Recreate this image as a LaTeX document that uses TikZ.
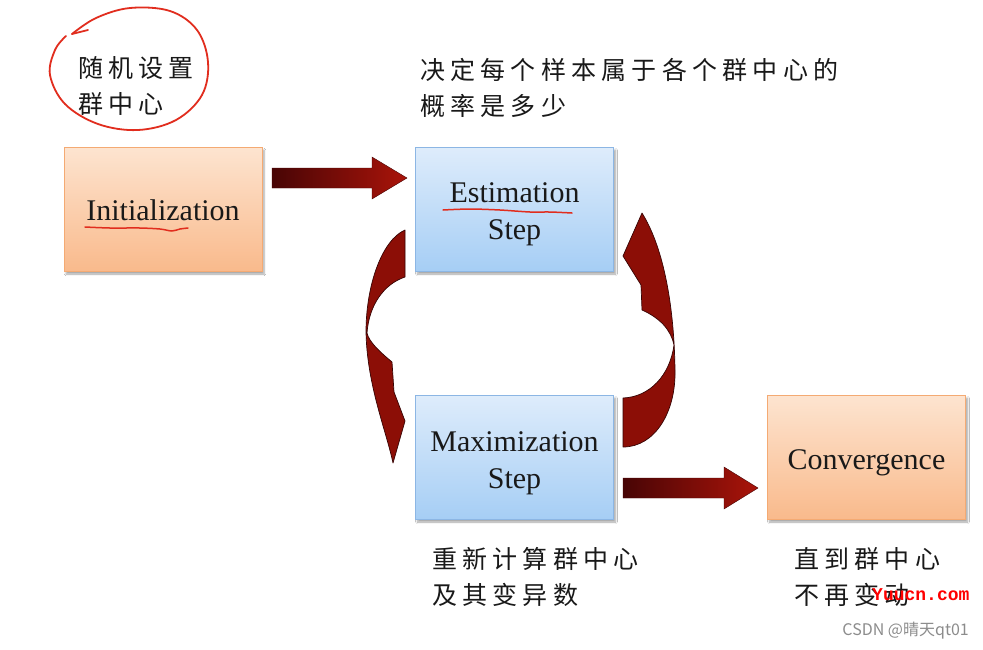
\documentclass[tikz,border=0pt]{standalone}
\usepackage{fontspec}
\setmainfont{Liberation Serif}
\newfontfamily\cjk[LetterSpace=21]{Noto Sans CJK SC}
\newfontfamily\cjkplain{Noto Sans CJK SC}
\newfontfamily\wmfont{Liberation Mono}
\usetikzlibrary{shadows.blur,calc}
\definecolor{orTop}{RGB}{253,228,208}
\definecolor{orBot}{RGB}{249,186,140}
\definecolor{orLine}{RGB}{244,170,115}
\definecolor{blTop}{RGB}{222,236,251}
\definecolor{blBot}{RGB}{166,206,245}
\definecolor{blLine}{RGB}{140,182,228}
\definecolor{arDark}{RGB}{72,5,5}
\definecolor{arRed}{RGB}{170,20,10}
\definecolor{arFill}{RGB}{140,14,6}
\definecolor{arEdge}{RGB}{55,4,4}
\definecolor{penRed}{RGB}{225,45,30}
\definecolor{txt}{RGB}{25,25,25}
\definecolor{wmGray}{RGB}{140,140,140}
\tikzset{
  box/.style={rectangle, minimum width=198pt, minimum height=124pt, inner sep=0pt, line width=0.8pt,
    blur shadow={shadow xshift=2pt, shadow yshift=-3pt, shadow blur steps=6, shadow opacity=35}},
  orangebox/.style={box, top color=orTop, bottom color=orBot, draw=orLine},
  bluebox/.style={box, top color=blTop, bottom color=blBot, draw=blLine},
  boxtext/.style={inner sep=0pt, font=\fontsize{30}{37}\selectfont, text=txt, align=center},
  blockarrow/.style={left color=arDark, right color=arRed, draw=arDark, line width=0.4pt},
  curvearrow/.style={fill=arFill, draw=arEdge, line width=0.7pt, line join=round},
  note/.style={anchor=west, inner sep=0pt, align=left, text=txt,
    font=\cjk\fontsize{25}{36.5}\selectfont},
  pen/.style={draw=penRed, line width=1.8pt, line cap=round, line join=round}
}
\begin{document}
\begin{tikzpicture}[x=1pt,y=-1pt]
\useasboundingbox (0,0) rectangle (983,649);
\fill[white] (0,0) rectangle (983,649);

% boxes
\node[orangebox] (init) at (163,209) {};
\node[bluebox] (est) at (514.5,209) {};
\node[bluebox] (max) at (514.5,457) {};
\node[orangebox] (conv) at (866.5,457) {};
\node[boxtext] (initT) at ($(init.center)+(0,1)$) {Initialization};
\node[boxtext] (estT) at ($(est.center)+(0,5.5)$) {Estimation\\Step};
\node[boxtext] (maxT) at ($(max.center)+(0,6)$) {Maximization\\Step};
\node[boxtext] (convT) at ($(conv.center)+(0,6)$) {Convergence};

% straight block arrows
\path[blockarrow] (272,168) -- (372,168) -- (372,157) -- (407,178) -- (372,199) -- (372,188) -- (272,188) -- cycle;
\path[blockarrow] (623,478) -- (724,478) -- (724,467) -- (758,488) -- (724,509) -- (724,498) -- (623,498) -- cycle;

% curved arrow E -> M (left)
\path[curvearrow] (405,230) .. controls (382,240) and (366,285) .. (366,332)
  .. controls (367,385) and (386,430) .. (393,463)
  -- (405,421) -- (394,392) -- (392,362)
  .. controls (380,352) and (369,342) .. (367,333)
  .. controls (369,305) and (384,284) .. (405,277) -- cycle;

% curved arrow M -> E (right)
\path[curvearrow] (623,447) .. controls (655,447) and (676,412) .. (675,370)
  .. controls (674,300) and (662,245) .. (642,213)
  -- (623,256) -- (641,285) -- (642,310)
  .. controls (660,318) and (671,330) .. (674,345)
  .. controls (670,375) and (650,397) .. (623,398) -- cycle;

% texts
\node[note] (t1) at (78,86) {随机设置\\群中心};
\node[note] (t2) at (420,88) {决定每个样本属于各个群中心的\\概率是多少};
\node[note] (t3) at (432,577) {重新计算群中心\\及其变异数};
\node[note] (t4) at (794,577) {直到群中心\\不再变动};

% hand-drawn red marks
\draw[pen] (88,30) -- (72,34);
\draw[pen] plot[smooth, tension=0.6] coordinates {(72,34) (96,18) (130,8) (170,11) (197,30) (208,62) (202,95) (176,120) (138,130) (98,124) (65,104) (50,75) (55,50) (66,36)};
\draw[pen, line width=1.5pt] plot[smooth, tension=0.5] coordinates {(85,227) (110,228) (140,228) (160,229) (172,231) (180,229) (188,228)};
\draw[pen, line width=1.5pt] plot[smooth, tension=0.5] coordinates {(443,210) (470,209) (500,210) (530,212) (550,212) (572,213)};

% watermarks
\node[anchor=west, inner sep=0pt, text=red, font=\wmfont\bfseries\fontsize{18}{18}\selectfont] (wm1) at (872,595) {Yuucn.com};
\node[anchor=east, inner sep=0pt, text=wmGray, font=\cjkplain\fontsize{16}{16}\selectfont] (wm2) at (969,631) {CSDN @晴天qt01};
\end{tikzpicture}
\end{document}
